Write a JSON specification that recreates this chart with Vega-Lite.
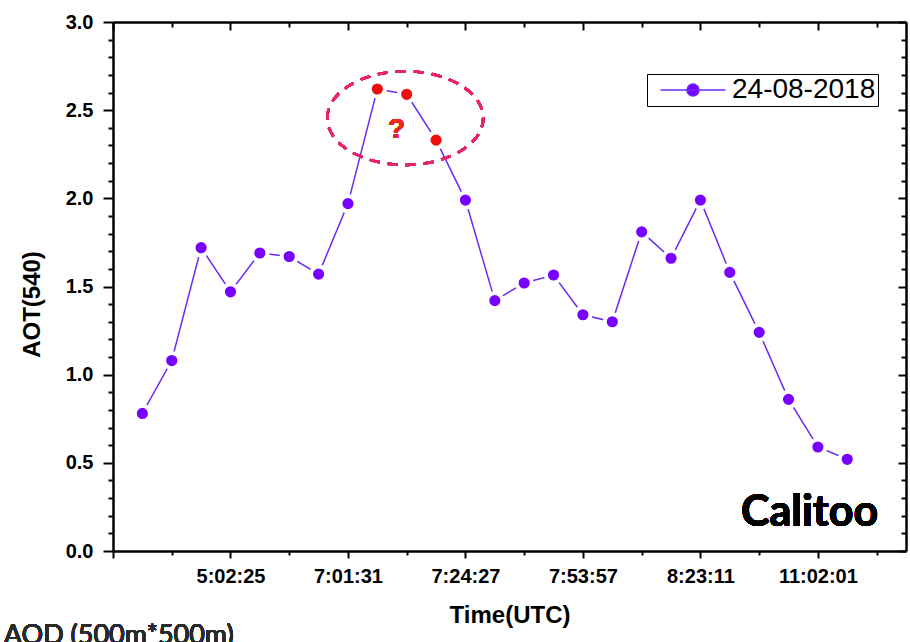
{
  "$schema": "https://vega.github.io/schema/vega-lite/v6.json",
  "width": 793,
  "height": 529,
  "autosize": "none",
  "padding": {"left": 113, "top": 22, "right": 4, "bottom": 91},
  "background": "white",
  "config": {
    "view": {"stroke": null},
    "font": "Liberation Sans",
    "axis": {"grid": false, "domainColor": "black", "domainWidth": 2.5, "tickColor": "black", "tickWidth": 2, "labelColor": "black", "titleColor": "black", "labelFont": "Liberation Sans", "titleFont": "Liberation Sans", "labelFontWeight": "bold", "titleFontWeight": "bold", "labelFontSize": 20, "titleFontSize": 24}
  },
  "data": {
    "values": [
      {"n": 1, "aot": 0.78, "date": "24-08-2018", "flag": "ok"},
      {"n": 2, "aot": 1.08, "date": "24-08-2018", "flag": "ok"},
      {"n": 3, "aot": 1.72, "date": "24-08-2018", "flag": "ok"},
      {"n": 4, "aot": 1.47, "date": "24-08-2018", "flag": "ok"},
      {"n": 5, "aot": 1.69, "date": "24-08-2018", "flag": "ok"},
      {"n": 6, "aot": 1.67, "date": "24-08-2018", "flag": "ok"},
      {"n": 7, "aot": 1.57, "date": "24-08-2018", "flag": "ok"},
      {"n": 8, "aot": 1.97, "date": "24-08-2018", "flag": "ok"},
      {"n": 9, "aot": 2.62, "date": "24-08-2018", "flag": "questionable"},
      {"n": 10, "aot": 2.59, "date": "24-08-2018", "flag": "questionable"},
      {"n": 11, "aot": 2.33, "date": "24-08-2018", "flag": "questionable"},
      {"n": 12, "aot": 1.99, "date": "24-08-2018", "flag": "ok"},
      {"n": 13, "aot": 1.42, "date": "24-08-2018", "flag": "ok"},
      {"n": 14, "aot": 1.52, "date": "24-08-2018", "flag": "ok"},
      {"n": 15, "aot": 1.565, "date": "24-08-2018", "flag": "ok"},
      {"n": 16, "aot": 1.34, "date": "24-08-2018", "flag": "ok"},
      {"n": 17, "aot": 1.30, "date": "24-08-2018", "flag": "ok"},
      {"n": 18, "aot": 1.81, "date": "24-08-2018", "flag": "ok"},
      {"n": 19, "aot": 1.66, "date": "24-08-2018", "flag": "ok"},
      {"n": 20, "aot": 1.99, "date": "24-08-2018", "flag": "ok"},
      {"n": 21, "aot": 1.58, "date": "24-08-2018", "flag": "ok"},
      {"n": 22, "aot": 1.24, "date": "24-08-2018", "flag": "ok"},
      {"n": 23, "aot": 0.86, "date": "24-08-2018", "flag": "ok"},
      {"n": 24, "aot": 0.59, "date": "24-08-2018", "flag": "ok"},
      {"n": 25, "aot": 0.52, "date": "24-08-2018", "flag": "ok"}
    ]
  },
  "resolve": {"axis": {"x": "independent", "y": "independent"}},
  "layer": [
    {
      "mark": {"type": "line", "strokeWidth": 1.5},
      "encoding": {
        "x": {"field": "n", "type": "quantitative", "scale": {"domain": [0, 27], "nice": false, "zero": false},
          "axis": {"orient": "bottom", "title": "Time(UTC)", "titlePadding": 17, "values": [0,2,4,6,8,10,12,14,16,18,20,22,24,26],
            "tickSize": {"condition": {"test": "datum.value % 4 == 0", "value": 7}, "value": 4}, "labelPadding": 8,
            "labelExpr": "datum.value==4?'5:02:25':datum.value==8?'7:01:31':datum.value==12?'7:24:27':datum.value==16?'7:53:57':datum.value==20?'8:23:11':datum.value==24?'11:02:01':''"}},
        "y": {"field": "aot", "type": "quantitative", "scale": {"domain": [0, 3], "nice": false, "zero": false},
          "axis": {"orient": "left", "title": "AOT(540)", "titleX": -81, "titleY": 282, "titleAngle": -90, "titleAlign": "center", "titleBaseline": "middle", "labelPadding": 10,
            "values": [0,0.1,0.2,0.3,0.4,0.5,0.6,0.7,0.8,0.9,1,1.1,1.2,1.3,1.4,1.5,1.6,1.7,1.8,1.9,2,2.1,2.2,2.3,2.4,2.5,2.6,2.7,2.8,2.9,3],
            "tickSize": {"condition": {"test": "abs(datum.value*2-round(datum.value*2))<0.01", "value": 10}, "value": 5},
            "labelExpr": "abs(datum.value*2-round(datum.value*2))<0.01 ? format(datum.value,'.1f') : ''"}},
        "color": {"field": "date", "type": "nominal", "scale": {"range": ["#6a2cf2"]},
          "legend": {"title": null, "orient": "none", "legendX": 534, "legendY": 52, "strokeColor": "black", "padding": 2,
            "labelFont": "Liberation Sans", "labelFontSize": 28, "labelColor": "black", "symbolSize": 400, "symbolOffset": 30, "labelOffset": 25,
            "symbolType": "M-3.25,0H3.25M0.6,0C0.6,0.3314,0.3314,0.6,0,0.6C-0.3314,0.6,-0.6,0.3314,-0.6,0C-0.6,-0.3314,-0.3314,-0.6,0,-0.6C0.3314,-0.6,0.6,-0.3314,0.6,0Z",
            "encode": {"symbols": {"update": {"fill": {"value": "#7700ff"}, "stroke": {"value": "#7700ff"}, "strokeWidth": {"value": 1.5}, "fillOpacity": {"value": 1}}}}}}
      }
    },
    {
      "mark": {"type": "point", "filled": false, "size": 24336, "stroke": "#e8246c", "strokeWidth": 2.5, "strokeDash": [10, 8],
        "shape": "M-1,0C-1,-0.3314,-0.5523,-0.6,0,-0.6C0.5523,-0.6,1,-0.3314,1,0C1,0.3314,0.5523,0.6,0,0.6C-0.5523,0.6,-1,0.3314,-1,0Z"},
      "encoding": {
        "x": {"datum": 9.95, "type": "quantitative", "axis": null},
        "y": {"datum": 2.455, "type": "quantitative", "axis": null}
      }
    },
    {
      "mark": {"type": "point", "filled": true, "size": 230, "shape": "circle", "stroke": "white", "strokeWidth": 4, "opacity": 1},
      "encoding": {
        "x": {"field": "n", "type": "quantitative",
          "axis": {"orient": "top", "title": null, "labels": false, "values": [0,2,4,6,8,10,12,14,16,18,20,22,24,26],
            "tickSize": {"condition": {"test": "datum.value % 4 == 0", "value": -8}, "value": -5}}},
        "y": {"field": "aot", "type": "quantitative",
          "axis": {"orient": "right", "title": null, "labels": false,
            "values": [0,0.1,0.2,0.3,0.4,0.5,0.6,0.7,0.8,0.9,1,1.1,1.2,1.3,1.4,1.5,1.6,1.7,1.8,1.9,2,2.1,2.2,2.3,2.4,2.5,2.6,2.7,2.8,2.9,3],
            "tickSize": {"condition": {"test": "abs(datum.value*2-round(datum.value*2))<0.01", "value": -8}, "value": -5}}},
        "fill": {"condition": {"test": "datum.flag == 'questionable'", "value": "#f20d0d"}, "value": "#7700ff"}
      }
    },
    {
      "mark": {"type": "text", "font": "Liberation Sans", "fontWeight": "bold", "fontSize": 28, "color": "#e8281c", "align": "center", "baseline": "middle"},
      "encoding": {
        "x": {"datum": 9.65, "type": "quantitative", "axis": null},
        "y": {"datum": 2.39, "type": "quantitative", "axis": null},
        "text": {"value": "?"}
      }
    },
    {
      "mark": {"type": "text", "font": "Lato", "fontWeight": "bold", "fontSize": 43, "color": "black", "align": "right", "baseline": "alphabetic"},
      "encoding": {
        "x": {"datum": 26.05, "type": "quantitative", "axis": null},
        "y": {"datum": 0.14, "type": "quantitative", "axis": null},
        "text": {"value": "Calitoo"}
      }
    },
    {
      "mark": {"type": "text", "font": "Lato", "fontSize": 27, "color": "#2a2a2a", "align": "left", "baseline": "alphabetic"},
      "encoding": {
        "x": {"datum": -3.72, "type": "quantitative", "axis": null},
        "y": {"datum": -0.525, "type": "quantitative", "axis": null},
        "text": {"value": "AOD (500m*500m)"}
      }
    }
  ]
}
